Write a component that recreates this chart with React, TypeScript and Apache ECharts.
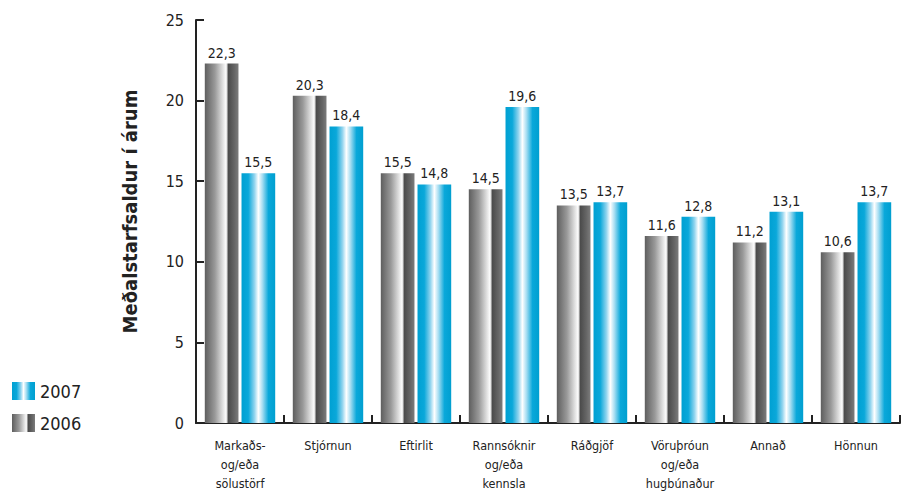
import React, { useEffect, useRef } from "react";
import * as echarts from "echarts";

const categories = [
  "Markaðs-\nog/eða\nsölustörf",
  "Stjórnun",
  "Eftirlit",
  "Rannsóknir\nog/eða\nkennsla",
  "Ráðgjöf",
  "Vöruþróun\nog/eða\nhugbúnaður",
  "Annað",
  "Hönnun",
];
const values2006 = [22.3, 20.3, 15.5, 14.5, 13.5, 11.6, 11.2, 10.6];
const values2007 = [15.5, 18.4, 14.8, 19.6, 13.7, 12.8, 13.1, 13.7];
const yTicks = { min: 0, max: 25, interval: 5 };

const FONT = "'Liberation Sans Narrow', 'DejaVu Sans Condensed', 'Liberation Sans', Arial, sans-serif";

const grayGrad = new echarts.graphic.LinearGradient(0, 0, 1, 0, [
  { offset: 0, color: "#5e5e5e" },
  { offset: 0.3, color: "#999999" },
  { offset: 0.62, color: "#fafafa" },
  { offset: 0.66, color: "#dcdcdc" },
  { offset: 0.69, color: "#4a4a4a" },
  { offset: 0.88, color: "#666666" },
  { offset: 1, color: "#7c7c7c" },
]);
const blueGrad = new echarts.graphic.LinearGradient(0, 0, 1, 0, [
  { offset: 0, color: "#00a0d2" },
  { offset: 0.2, color: "#0aa8da" },
  { offset: 0.38, color: "#8ed3ee" },
  { offset: 0.5, color: "#ffffff" },
  { offset: 0.62, color: "#a8def2" },
  { offset: 0.8, color: "#0aa8da" },
  { offset: 1, color: "#009fd0" },
]);

const fmt = (p: any) => String(p.value).replace(".", ",");

export default function App() {
  const ref = useRef<HTMLDivElement>(null);
  useEffect(() => {
    if (!ref.current) return;
    const chart = echarts.init(ref.current, undefined, { renderer: "svg" });
    chart.setOption({
      animation: false,
      grid: { left: 196, right: 4, top: 20, bottom: 70, outerBoundsMode: "none", containLabel: false },
      legend: {
        data: ["2007", "2006"],
        orient: "vertical",
        left: 7,
        top: 377,
        icon: "rect",
        itemWidth: 23,
        itemHeight: 18,
        itemGap: 14,
        textStyle: { fontFamily: FONT, fontSize: 18, color: "#222" },
      },
      xAxis: {
        type: "category",
        data: categories,
        axisLine: { lineStyle: { color: "#222", width: 2 } },
        axisTick: { show: true, inside: true, length: 8, lineStyle: { color: "#222", width: 2 } },
        axisLabel: {
          fontFamily: FONT,
          fontSize: 12.5,
          color: "#222",
          lineHeight: 19,
          margin: 13,
          interval: 0,
        },
      },
      yAxis: {
        type: "value",
        min: yTicks.min,
        max: yTicks.max,
        interval: yTicks.interval,
        name: "Meðalstarfsaldur í árum",
        nameLocation: "middle",
        nameGap: 56,
        nameTextStyle: { fontFamily: FONT, fontSize: 20, fontWeight: "bold", color: "#222", padding: [0, 0, 0, 20] },
        axisLine: { show: true, lineStyle: { color: "#222", width: 2 } },
        axisTick: { show: true, inside: true, length: 8, lineStyle: { color: "#222", width: 2 } },
        axisLabel: { fontFamily: FONT, fontSize: 16, color: "#222", margin: 12 },
        splitLine: { show: false },
      },
      series: [
        {
          name: "2006",
          type: "bar",
          data: values2006,
          barCategoryGap: "20%",
          barGap: "9%",
          itemStyle: { color: grayGrad },
          label: { show: true, position: "top", distance: 4, formatter: fmt, fontFamily: FONT, fontSize: 14, color: "#222" },
        },
        {
          name: "2007",
          type: "bar",
          data: values2007,
          barCategoryGap: "20%",
          barGap: "9%",
          itemStyle: { color: blueGrad },
          label: { show: true, position: "top", distance: 4, formatter: fmt, fontFamily: FONT, fontSize: 14, color: "#222" },
        },
      ],
    });
    return () => chart.dispose();
  }, []);
  return <div ref={ref} style={{ width: 904, height: 493, position: "absolute", left: 0, top: 0 }} />;
}
